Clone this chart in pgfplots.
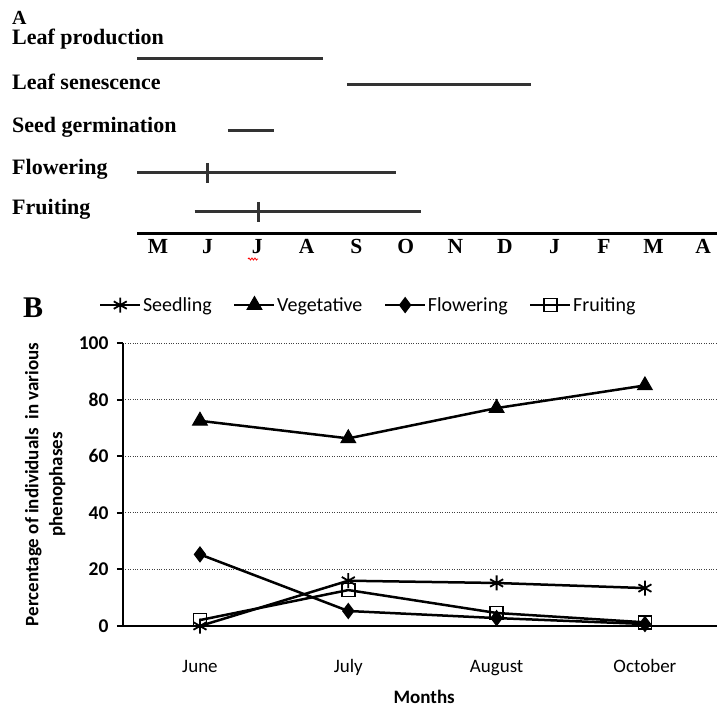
\documentclass[border=0pt]{standalone}
\usepackage{pgfplots}
\pgfplotsset{compat=1.18}
\usepackage{fontspec}
\setmainfont{Liberation Serif}
\newfontfamily\carlito{Carlito}
\usetikzlibrary{decorations.pathmorphing}

\begin{document}
\begin{tikzpicture}[x=1pt,y=1pt]
\useasboundingbox (0,0) rectangle (717,-708);
% ---------- Panel A ----------
\node[anchor=base west, inner sep=0pt, font=\fontsize{20}{24}\selectfont\bfseries] at (12,-25) {A};
\foreach \t/\yy in {Leaf production/45, Leaf senescence/90, Seed germination/133, Flowering/175, Fruiting/215}
  \node[anchor=base west, inner sep=0pt, font=\fontsize{22}{26}\selectfont\bfseries] at (12,-\yy) {\t};
\begin{axis}[at={(137pt,-234pt)}, anchor=south west, scale only axis,
  width=580pt, height=234pt, xmin=-0.424, xmax=11.28, ymin=-234, ymax=0,
  hide y axis, axis x line*=bottom, axis line style={-, line width=3pt},
  xtick={0,...,11}, xticklabels={M,J,J,A,S,O,N,D,J,F,M,A},
  major tick length=0pt,
  xticklabel style={anchor=base, yshift=-20pt, inner sep=0pt, font=\fontsize{21.5}{24}\selectfont\bfseries},
  clip=false]
\addplot[line width=3pt, black!80, no marks] coordinates {(-0.42,-59) (3.33,-59)};
\addplot[line width=3pt, black!80, no marks] coordinates {(3.81,-85) (7.53,-85)};
\addplot[line width=3pt, black!80, no marks] coordinates {(1.41,-131) (2.35,-131)};
\addplot[line width=3pt, black!80, no marks] coordinates {(-0.42,-173) (4.81,-173)};
\addplot[line width=3pt, black!80, no marks] coordinates {(1.0,-163) (1.0,-183)};
\addplot[line width=3pt, black!80, no marks] coordinates {(0.74,-212) (5.30,-212)};
\addplot[line width=3pt, black!80, no marks] coordinates {(2.02,-202) (2.02,-222)};
\end{axis}
\draw[red, line width=0.8pt, decorate, decoration={snake, amplitude=1pt, segment length=3pt}] (248,-259) -- (258,-259);
% ---------- Panel B ----------
\node[anchor=base west, inner sep=0pt, font=\fontsize{30}{34}\selectfont\bfseries] at (23,-318) {B};
\begin{axis}[at={(123pt,-626pt)}, anchor=south west, scale only axis,
  width=594pt, height=283pt, xmin=-0.519, xmax=3.486, ymin=0, ymax=100,
  axis x line*=bottom, axis y line*=left, axis line style={-, line width=2.5pt},
  xtick={0,1,2,3}, xticklabels={June,July,August,October},
  x tick style={draw=none},
  ytick={0,20,...,100}, tick align=outside, major tick length=6pt,
  y tick style={line width=2pt, black},
  ymajorgrids, grid style={dotted, line width=1pt, black!75},
  /pgf/number format/assume math mode=true,
  xticklabel style={anchor=base, yshift=-40pt, inner sep=0pt, font=\carlito\fontsize{19}{22}\selectfont},
  yticklabel style={xshift=-5pt, font=\carlito\bfseries\fontsize{19.5}{22}\selectfont},
  xlabel={Months}, xlabel style={at={(axis description cs:0.507,-0.251)}, anchor=center, font=\carlito\bfseries\fontsize{19}{22}\selectfont},
  ylabel={Percentage of individuals\ \ in various\\phenophases},
  ylabel style={at={(axis description cs:-0.131,0.5)}, anchor=center, align=center, font=\carlito\bfseries\fontsize{19}{24}\selectfont},
  legend columns=4,
  legend style={draw=none, fill=none, at={(axis description cs:0.4125,1.134)}, anchor=center,
    font=\carlito\fontsize{20}{22}\selectfont, nodes={inner sep=1.5pt},
    /tikz/every even column/.append style={column sep=20pt}},
  legend image code/.code={\draw[mark repeat=2,mark phase=2] plot coordinates {(0pt,0pt) (20pt,0pt) (40pt,0pt)};},
  every axis plot/.append style={line width=2.5pt, black},
  ]
\addplot[mark=asterisk, mark size=7.5pt, mark options={line width=1.8pt}] coordinates {(0,0) (1,16) (2,15.2) (3,13.4)};
\addlegendentry{Seedling}
\addplot[mark=triangle*, mark size=8.5pt, mark options={line width=1pt}] coordinates {(0,72.5) (1,66.3) (2,77) (3,85)};
\addlegendentry{Vegetative}
\addplot[mark=diamond*, mark size=7.5pt, mark options={line width=1pt}] coordinates {(0,25.3) (1,5.3) (2,2.8) (3,0.7)};
\addlegendentry{Flowering}
\addplot[mark=square, mark size=6.5pt, mark options={fill=white, line width=1.8pt}] coordinates {(0,2.1) (1,12.7) (2,4.6) (3,1.3)};
\addlegendentry{Fruiting}
\end{axis}
\end{tikzpicture}
\end{document}
